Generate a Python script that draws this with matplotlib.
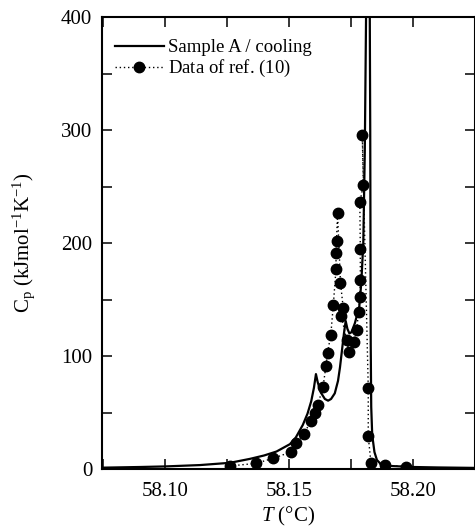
import numpy as np
import matplotlib
matplotlib.use("Agg")
import matplotlib.pyplot as plt
from matplotlib.ticker import MultipleLocator

plt.rcParams['font.family'] = ['Liberation Serif', 'DejaVu Serif']
plt.rcParams['mathtext.fontset'] = 'custom'
plt.rcParams['mathtext.rm'] = 'Liberation Serif'
plt.rcParams['mathtext.it'] = 'Liberation Serif:italic'

# Sample A / cooling (solid curve)
temp_a = [58.0746, 58.090, 58.100, 58.1141, 58.1262, 58.1343, 58.1400,
          58.1450, 58.1504, 58.1528, 58.1556, 58.1575, 58.1590, 58.1601,
          58.1609, 58.1616, 58.1628, 58.1645, 58.1658, 58.1670, 58.1685,
          58.1698, 58.1706, 58.1714, 58.1722, 58.1729, 58.1736, 58.1744,
          58.1752, 58.1766, 58.1784, 58.1792, 58.1800, 58.1806, 58.1812,
          58.1818, 58.1824, 58.1828, 58.1830, 58.1832, 58.1836, 58.1845,
          58.1855, 58.1870, 58.1900, 58.2000, 58.2100, 58.2250]
cp_a = [1.2, 1.8, 2.3, 3.5, 5.5, 9.0, 12.0,
        15.5, 22.0, 28.0, 39.0, 49.0, 60.0, 72.0,
        84.0, 77.0, 68.0, 62.0, 60.5, 62.0, 67.0,
        78.0, 90.0, 105.0, 120.0, 131.0, 124.0, 120.0,
        121.0, 129.0, 144.0, 165.0, 200.0, 280.0, 420.0,
        560.0, 520.0, 300.0, 110.0, 55.0, 30.0, 15.0,
        8.0, 4.5, 2.8, 1.8, 1.4, 1.0]

# Data of ref. (10) (dotted line with dots)
temp_ref = [58.1262, 58.1367, 58.1437, 58.1507, 58.1528, 58.1560, 58.1589,
            58.1605, 58.1616, 58.1638, 58.1649, 58.1656, 58.1669, 58.1679,
            58.1690, 58.1690, 58.1692, 58.1696, 58.1708, 58.1719, 58.1712,
            58.1733, 58.1742, 58.1762, 58.1773, 58.1781, 58.1786, 58.1788,
            58.1788, 58.1786, 58.1800, 58.1796, 58.1820, 58.1820, 58.1831,
            58.1887, 58.1972]
cp_ref = [2.7, 5.0, 9.5, 15.0, 23.0, 31.0, 42.5,
          50.0, 56.5, 73.0, 91.0, 103.0, 119.0, 145.0,
          177.0, 191.0, 202.0, 227.0, 165.0, 142.5, 135.0,
          114.0, 104.0, 112.0, 123.0, 139.0, 152.0, 167.0,
          195.0, 236.0, 251.0, 296.0, 72.0, 29.0, 5.0,
          3.5, 2.0]

fig = plt.figure(figsize=(4.75, 5.27), dpi=100)
ax = fig.add_axes([0.2147, 0.110, 0.785, 0.8577])

ax.plot(temp_a, cp_a, color='black', lw=1.6, label='Sample A / cooling')
ax.plot(temp_ref, cp_ref, color='black', lw=1.0, ls=(0, (1, 2)),
        marker='o', ms=7.5, label='Data of ref. ($\\mathit{10}$)')

ax.set_xlim(58.0746, 58.2250)
ax.set_ylim(0, 400)
ax.xaxis.set_minor_locator(MultipleLocator(0.025))
ax.yaxis.set_major_locator(MultipleLocator(100))
ax.yaxis.set_minor_locator(MultipleLocator(50))
ax.set_xticks([58.10, 58.15, 58.20])
ax.set_xticklabels(['58.10', '58.15', '58.20'])
ax.tick_params(which='both', direction='in', top=True, right=True,
               length=7, width=1.1, labelsize=15)
ax.tick_params(axis='x', which='major', pad=9.0)
ax.tick_params(axis='y', which='major', pad=7)
for s in ax.spines.values():
    s.set_linewidth(1.5)

ax.set_xlabel('$T$ (°C)', fontsize=15, labelpad=3.5)
ax.set_ylabel('C$_\\mathrm{p}$ (kJmol$^{-1}$K$^{-1}$)', fontsize=15, labelpad=17)

ax.legend(loc='upper left', frameon=False, fontsize=13.5, handlelength=2.6,
          handletextpad=0.2, borderaxespad=0.3, labelspacing=0.1,
          bbox_to_anchor=(0.0, 0.98))

fig.savefig('out.png', dpi=100)
